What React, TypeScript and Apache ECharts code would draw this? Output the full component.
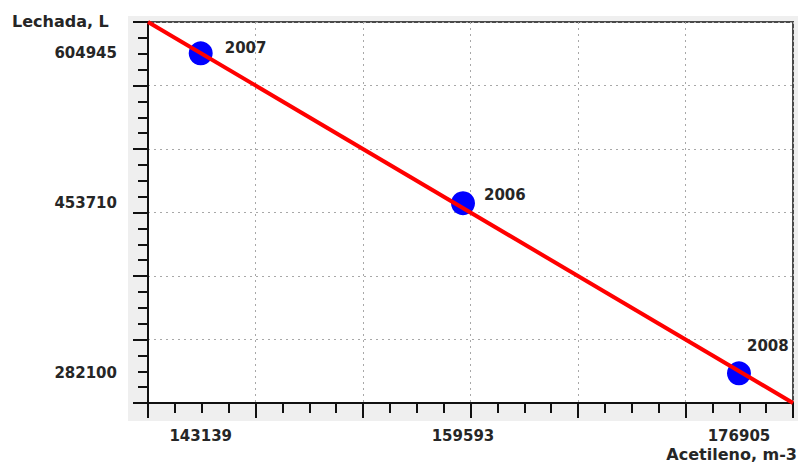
import React, { useEffect, useRef } from "react";
import * as echarts from "echarts";

// ---- data ----
const years = ["2007", "2006", "2008"];
const acetileno = [143139, 159593, 176905];
const lechada = [604945, 453710, 282100];
const xTickLabels = [143139, 159593, 176905];
const yTickLabels = [604945, 453710, 282100];
const xRange = [139833, 180294];
const yRange = [252136, 636524];
const trendX = [139833, 180294];
const trendY = [636524, 252136];
const gridSteps = 6;
const minorSteps = 4;

// label offsets (style only)
const labelOffsets = [
  [12, -5],
  [9, -8],
  [-4, -27],
];

const FONT = "DejaVu Sans";

export default function App() {
  const ref = useRef<HTMLDivElement>(null);
  useEffect(() => {
    if (!ref.current) return;
    const chart = echarts.init(ref.current, null, { renderer: "svg" });

    const tickLabelStyle = {
      fontFamily: FONT,
      fontSize: 15,
      fontWeight: "bold" as const,
      color: "#262626",
    };
    const gridLine = {
      show: true,
      lineStyle: { color: "#a8a8a8", width: 1, type: [2, 4] as number[] },
    };
    const axisLine = { show: true, onZero: false, lineStyle: { color: "#111", width: 2 } };

    const option: any = {
      animation: false,
      backgroundColor: "#ffffff",
      grid: {
        left: 148,
        top: 22,
        right: 5,
        bottom: 59,
        show: true,
        backgroundColor: "#ffffff",
        borderColor: "#4a4a4a",
        borderWidth: 2,
      },
      graphic: [
        {
          type: "rect",
          z: -10,
          shape: { x: 128, y: 16, width: 670, height: 405 },
          style: { fill: "#efefef" },
        },
        {
          type: "text",
          left: 12,
          top: 13,
          style: {
            text: "Lechada, L",
            fontFamily: FONT,
            fontSize: 16,
            fontWeight: "bold",
            fill: "#262626",
          },
        },
        {
          type: "text",
          right: 1,
          top: 446,
          style: {
            text: "Acetileno, m-3",
            fontFamily: FONT,
            fontSize: 16,
            fontWeight: "bold",
            fill: "#262626",
          },
        },
      ],
      xAxis: [
        {
          type: "value",
          position: "bottom",
          min: xRange[0],
          max: xRange[1],
          axisLine: { show: false },
          axisTick: { show: false },
          splitLine: { show: false },
          axisLabel: {
            ...tickLabelStyle,
            margin: 25,
            customValues: xTickLabels,
            formatter: (v: number) => String(v),
          },
        },
        {
          type: "value",
          position: "bottom",
          min: 0,
          max: gridSteps,
          interval: 1,
          axisLine,
          axisTick: { show: true, inside: false, length: 15, lineStyle: { color: "#111", width: 2 } },
          minorTick: { show: true, splitNumber: minorSteps, length: 10, lineStyle: { color: "#111", width: 2 } },
          splitLine: gridLine,
          axisLabel: { show: false },
        },
      ],
      yAxis: [
        {
          type: "value",
          position: "left",
          min: yRange[0],
          max: yRange[1],
          axisLine: { show: false },
          axisTick: { show: false },
          splitLine: { show: false },
          axisLabel: {
            ...tickLabelStyle,
            margin: 31,
            customValues: yTickLabels,
            formatter: (v: number) => String(v),
          },
        },
        {
          type: "value",
          position: "left",
          min: 0,
          max: gridSteps,
          interval: 1,
          axisLine,
          axisTick: { show: true, inside: false, length: 15, lineStyle: { color: "#111", width: 2 } },
          minorTick: { show: true, splitNumber: minorSteps, length: 10, lineStyle: { color: "#111", width: 2 } },
          splitLine: gridLine,
          axisLabel: { show: false },
        },
      ],
      series: [
        {
          type: "scatter",
          xAxisIndex: 0,
          yAxisIndex: 0,
          symbol: "circle",
          symbolSize: 24,
          itemStyle: { color: "#0000ff", opacity: 1 },
          z: 3,
          data: acetileno.map((x, i) => ({
            value: [x, lechada[i]],
            name: years[i],
            label: {
              show: true,
              position: "right",
              distance: 0,
              offset: labelOffsets[i],
              formatter: years[i],
              fontFamily: FONT,
              fontSize: 15,
              fontWeight: "bold",
              color: "#262626",
            },
          })),
        },
        {
          type: "line",
          xAxisIndex: 0,
          yAxisIndex: 0,
          showSymbol: false,
          symbol: "none",
          z: 4,
          lineStyle: { color: "#ff0000", width: 4 },
          data: trendX.map((x, i) => [x, trendY[i]]),
        },
      ],
    };
    chart.setOption(option);
    return () => chart.dispose();
  }, []);
  return (
    <div
      ref={ref}
      style={{ position: "fixed", left: 0, top: 0, width: 798, height: 462 }}
    />
  );
}
